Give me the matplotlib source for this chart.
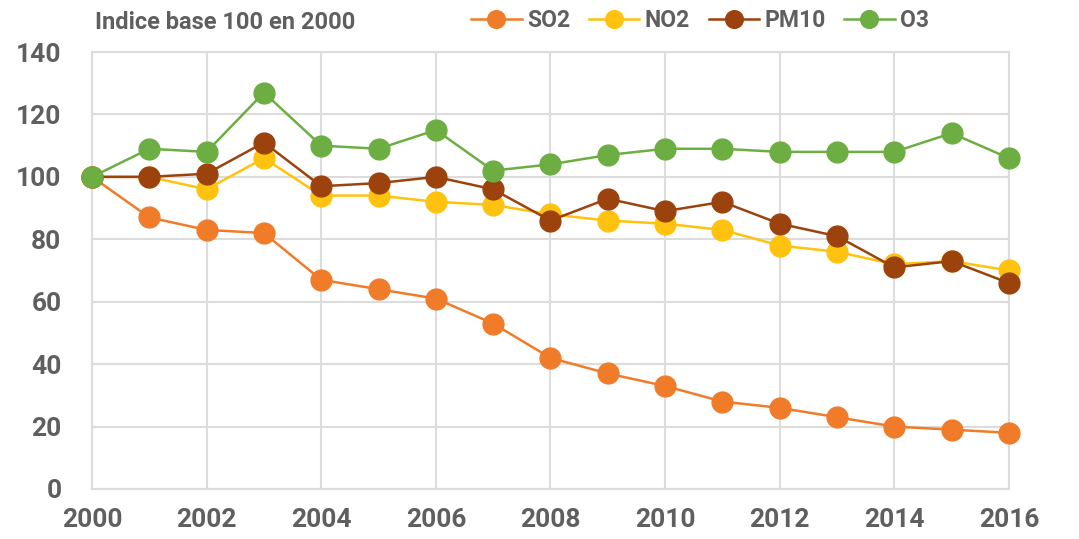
import matplotlib.pyplot as plt
import numpy as np

plt.rcParams['font.family'] = ['Roboto', 'DejaVu Sans']
plt.rcParams['font.weight'] = 'bold'

years = np.arange(2000, 2017)
so2 = [100, 87, 83, 82, 67, 64, 61, 53, 42, 37, 33, 28, 26, 23, 20, 19, 18]
no2 = [100, 100, 96, 106, 94, 94, 92, 91, 88, 86, 85, 83, 78, 76, 72, 73, 70]
pm10 = [100, 100, 101, 111, 97, 98, 100, 96, 86, 93, 89, 92, 85, 81, 71, 73, 66]
o3 = [100, 109, 108, 127, 110, 109, 115, 102, 104, 107, 109, 109, 108, 108, 108, 114, 106]

series = [("SO2", so2, "#F07C2A"),
          ("NO2", no2, "#FFC20E"),
          ("PM10", pm10, "#9C430D"),
          ("O3", o3, "#6DAE43")]

text_color = "#5f5f5f"
grid_color = "#dcdcdc"

fig = plt.figure(figsize=(10.79, 5.39), dpi=100)
ax = fig.add_axes([0.0853, 0.0928, 0.8497, 0.8107])

for name, vals, col in series:
    ax.plot(years, vals, color=col, lw=1.8, marker='o', markersize=15,
            label=name, clip_on=False, zorder=3)

ax.set_xlim(2000, 2016)
ax.set_ylim(0, 140)
ax.set_xticks(np.arange(2000, 2017, 2))
ax.set_yticks(np.arange(0, 141, 20))
ax.grid(True, color=grid_color, lw=1.5)
ax.set_axisbelow(True)
for sp in ax.spines.values():
    sp.set_color(grid_color)
    sp.set_linewidth(1.5)
ax.tick_params(axis='both', length=0, labelsize=19, labelcolor=text_color)
ax.tick_params(axis='y', pad=22)
ax.tick_params(axis='x', pad=14)

fig.text(0.088, 0.958, "Indice base 100 en 2000", fontsize=17,
         color=text_color, fontweight='bold', va='center', ha='left')

leg = fig.legend(loc='center', bbox_to_anchor=(0.649, 0.962), ncol=4,
                 frameon=False, fontsize=16.5, handlelength=2.2,
                 columnspacing=0.8, handletextpad=0.25, markerscale=0.85)
for t in leg.get_texts():
    t.set_color(text_color)
    t.set_fontweight('bold')

fig.savefig("out.png", dpi=100)
